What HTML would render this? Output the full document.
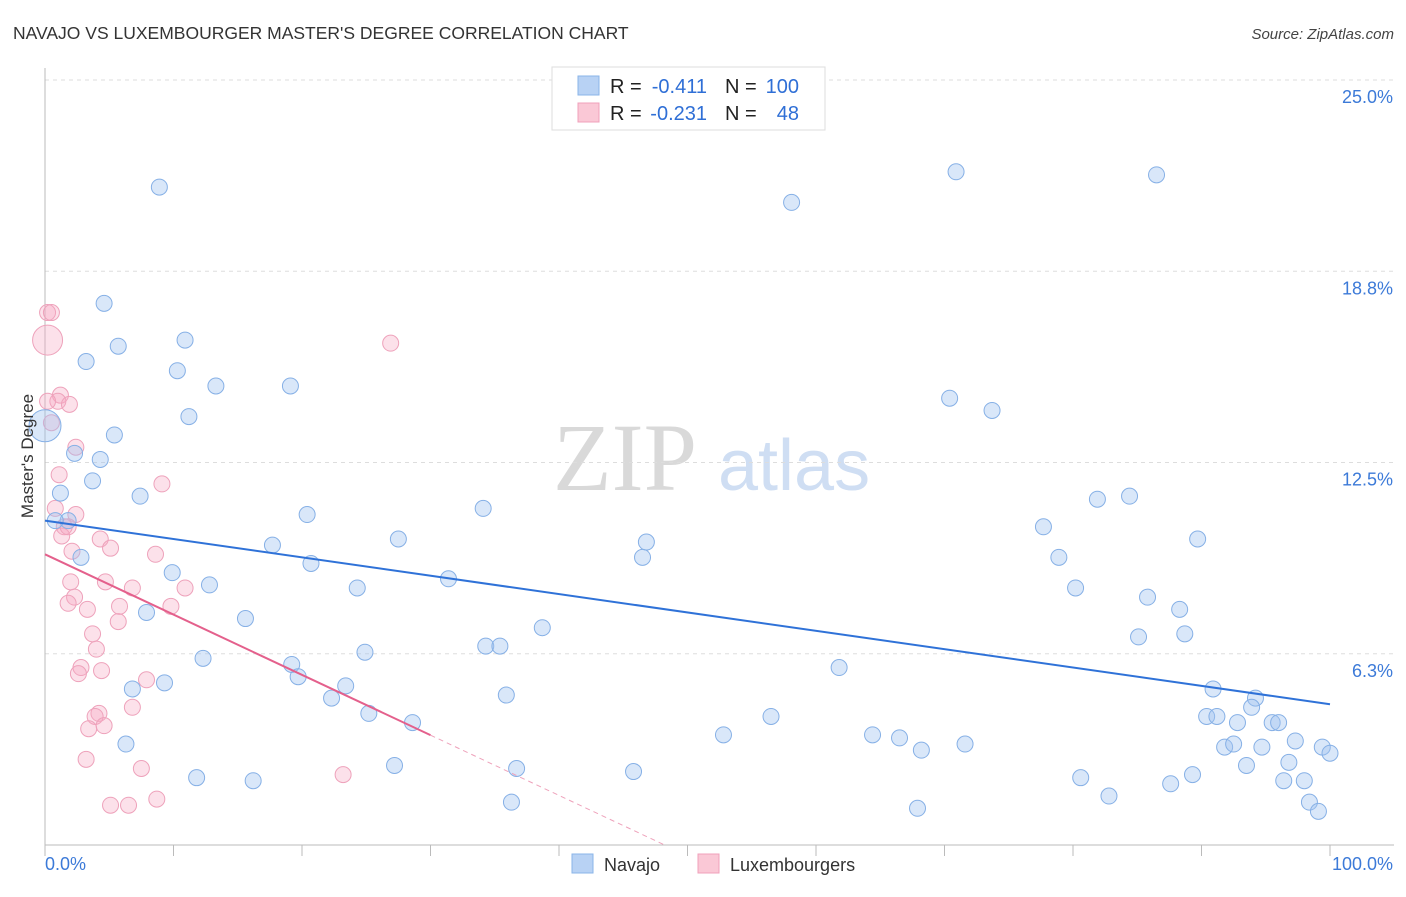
<!DOCTYPE html>
<html><head><meta charset="utf-8">
<style>
body{margin:0;background:#fff;font-family:"Liberation Sans",sans-serif;}
svg text{font-family:"Liberation Sans",sans-serif;}
</style></head>
<body>
<svg id="chart" width="1406" height="892" viewBox="0 0 1406 892" xmlns="http://www.w3.org/2000/svg">
<text x="13" y="39" font-size="17.5" fill="#333">NAVAJO VS LUXEMBOURGER MASTER'S DEGREE CORRELATION CHART</text>
<text x="1394" y="39" font-size="15" fill="#444" text-anchor="end" font-style="italic">Source: ZipAtlas.com</text>
<g>
<text x="553" y="490" font-size="96" fill="#d9d9d9" style="font-family:'Liberation Serif',serif">ZIP</text>
<text x="718" y="490" font-size="72" fill="#cfdef3">atlas</text>
</g>
<g id="grid"></g>
<g id="axes"></g>
<g id="points"></g>
<g id="trends"></g>
<text transform="translate(33,456) rotate(-90)" font-size="17" fill="#333" text-anchor="middle">Master's Degree</text>
<g>
<rect x="552" y="67" width="273" height="63" fill="#fff" stroke="#ddd"/>
<rect x="578" y="76" width="21" height="19" fill="#b8d2f4" stroke="#8ab4e8"/>
<rect x="578" y="103" width="21" height="19" fill="#fac8d6" stroke="#f0a0bb"/>
<text x="610" y="93" font-size="20" fill="#222">R =</text>
<text x="707" y="93" font-size="20" fill="#2f6fd6" text-anchor="end">-0.411</text>
<text x="725" y="93" font-size="20" fill="#222">N =</text>
<text x="799" y="93" font-size="20" fill="#2f6fd6" text-anchor="end">100</text>
<text x="610" y="120" font-size="20" fill="#222">R =</text>
<text x="707" y="120" font-size="20" fill="#2f6fd6" text-anchor="end">-0.231</text>
<text x="725" y="120" font-size="20" fill="#222">N =</text>
<text x="799" y="120" font-size="20" fill="#2f6fd6" text-anchor="end">48</text>
</g>
<g>
<rect x="572" y="854" width="21" height="19" fill="#b8d2f4" stroke="#8ab4e8"/>
<text x="604" y="871" font-size="18" fill="#333">Navajo</text>
<rect x="698" y="854" width="21" height="19" fill="#fac8d6" stroke="#f0a0bb"/>
<text x="730" y="871" font-size="18" fill="#333">Luxembourgers</text>
</g>
</svg>
<script>
const yTicks=[25.0,18.75,12.5,6.25];
const yTickLabels=["25.0%","18.8%","12.5%","6.3%"];
const xTicks=[0,10,20,30,40,50,60,70,80,90,100];
const navajoX=[8.9,4.6,5.7,10.9,3.2,10.3,13.3,19.1,11.2,5.4,2.3,4.3,3.7,1.2,7.4,1.8,0.8,2.8,20.4,27.5,34.1,17.7,20.7,9.9,12.8,24.3,31.4,7.9,15.6,46.8,46.5,38.7,34.3,35.4,24.9,12.3,19.2,19.7,23.4,6.8,9.3,22.3,25.2,28.6,35.9,6.3,11.8,16.2,27.2,36.7,36.3,45.8,52.8,56.5,61.8,64.4,66.5,68.2,71.6,67.9,58.1,70.9,86.5,70.4,73.7,77.7,78.9,80.2,81.9,84.4,85.8,89.7,85.1,88.3,88.7,90.9,90.4,91.2,94.2,93.9,92.8,95.5,96.0,91.8,92.5,94.7,97.3,93.5,96.8,99.4,100,80.6,82.8,87.6,89.3,96.4,98.0,98.4,99.1,0];
const navajoY=[21.5,17.7,16.3,16.5,15.8,15.5,15.0,15.0,14.0,13.4,12.8,12.6,11.9,11.5,11.4,10.6,10.6,9.4,10.8,10.0,11.0,9.8,9.2,8.9,8.5,8.4,8.7,7.6,7.4,9.9,9.4,7.1,6.5,6.5,6.3,6.1,5.9,5.5,5.2,5.1,5.3,4.8,4.3,4.0,4.9,3.3,2.2,2.1,2.6,2.5,1.4,2.4,3.6,4.2,5.8,3.6,3.5,3.1,3.3,1.2,21.0,22.0,21.9,14.6,14.2,10.4,9.4,8.4,11.3,11.4,8.1,10.0,6.8,7.7,6.9,5.1,4.2,4.2,4.8,4.5,4.0,4.0,4.0,3.2,3.3,3.2,3.4,2.6,2.7,3.2,3.0,2.2,1.6,2.0,2.3,2.1,2.1,1.4,1.1,13.7];
const luxX=[0.2,0.5,0.2,1.2,1.0,1.9,0.2,0.5,2.4,1.1,9.1,0.8,2.4,1.5,1.3,4.3,5.1,2.1,8.6,2.0,4.7,6.8,10.9,2.3,1.8,3.3,5.8,9.8,5.7,3.7,4.0,2.8,2.6,4.4,7.9,6.8,4.2,3.9,3.4,4.6,3.2,7.5,23.2,5.1,6.5,8.7,26.9,1.8];
const luxY=[17.4,17.4,16.5,14.7,14.5,14.4,14.5,13.8,13.0,12.1,11.8,11.0,10.8,10.4,10.1,10.0,9.7,9.6,9.5,8.6,8.6,8.4,8.4,8.1,7.9,7.7,7.8,7.8,7.3,6.9,6.4,5.8,5.6,5.7,5.4,4.5,4.3,4.2,3.8,3.9,2.8,2.5,2.3,1.3,1.3,1.5,16.4,10.4];
const navajoTrend=[10.6,4.6];
const luxTrend=[9.5,-0.197];
const X0=45,X1=1330,Y0=845,PX=30.6;
function sx(v){return X0+(X1-X0)*v/100;}
function sy(v){return Y0-v*PX;}
const NS="http://www.w3.org/2000/svg";
function mk(tag,attrs,parent){const e=document.createElementNS(NS,tag);for(const k in attrs)e.setAttribute(k,attrs[k]);parent.appendChild(e);return e;}
const grid=document.getElementById('grid'),axes=document.getElementById('axes'),pts=document.getElementById('points'),tr=document.getElementById('trends');
yTicks.forEach((t,i)=>{
 const l=mk('line',{x1:45,x2:1394,y1:sy(t),y2:sy(t),stroke:'#ddd','stroke-dasharray':'4,4'},grid);
 
 
 const tx=mk('text',{x:1393,y:sy(t)+23,'font-size':18,fill:'#3c7ad8','text-anchor':'end'},axes);
 tx.textContent=yTickLabels[i];
 
 
});
const ya=mk('line',{x1:45,x2:45,y1:68,y2:Y0,stroke:'#bbb'},axes);


const xa=mk('line',{x1:45,x2:1394,y1:Y0,y2:Y0,stroke:'#bbb'},axes);


xTicks.forEach(t=>{
 const l=mk('line',{x1:sx(t),x2:sx(t),y1:Y0,y2:Y0+11,stroke:'#bbb'},axes);
 
 
});
const xl0=mk('text',{x:45,y:870,'font-size':18,fill:'#3c7ad8'},axes);xl0.textContent='0.0%';


const xl1=mk('text',{x:1393,y:870,'font-size':18,fill:'#3c7ad8','text-anchor':'end'},axes);xl1.textContent='100.0%';


luxX.forEach((x,i)=>{
 const c=mk('circle',{cx:sx(x),cy:sy(luxY[i]),r:(i===2?15:8),fill:'rgba(246,170,196,0.35)',stroke:'#eea2bb','stroke-width':1},pts);
 
 
});
navajoX.forEach((x,i)=>{
 const big=(i===navajoX.length-1);
 const c=mk('circle',{cx:sx(x),cy:sy(navajoY[i]),r:(big?16:8),fill:'rgba(160,196,240,0.4)',stroke:'#86b0e6','stroke-width':1},pts);
 
 
});
const bl=mk('line',{x1:sx(0),y1:sy(navajoTrend[0]),x2:sx(100),y2:sy(navajoTrend[1]),stroke:'#2f72d8','stroke-width':2},tr);


const pEnd=30,pZero=-luxTrend[0]/luxTrend[1];
const pl=mk('line',{x1:sx(0),y1:sy(luxTrend[0]),x2:sx(pEnd),y2:sy(luxTrend[0]+luxTrend[1]*pEnd),stroke:'#e4608c','stroke-width':2},tr);


const pd=mk('line',{x1:sx(pEnd),y1:sy(luxTrend[0]+luxTrend[1]*pEnd),x2:sx(pZero),y2:sy(0),stroke:'#eea2bb','stroke-width':1,'stroke-dasharray':'5,4'},tr);


</script>
</body></html>
